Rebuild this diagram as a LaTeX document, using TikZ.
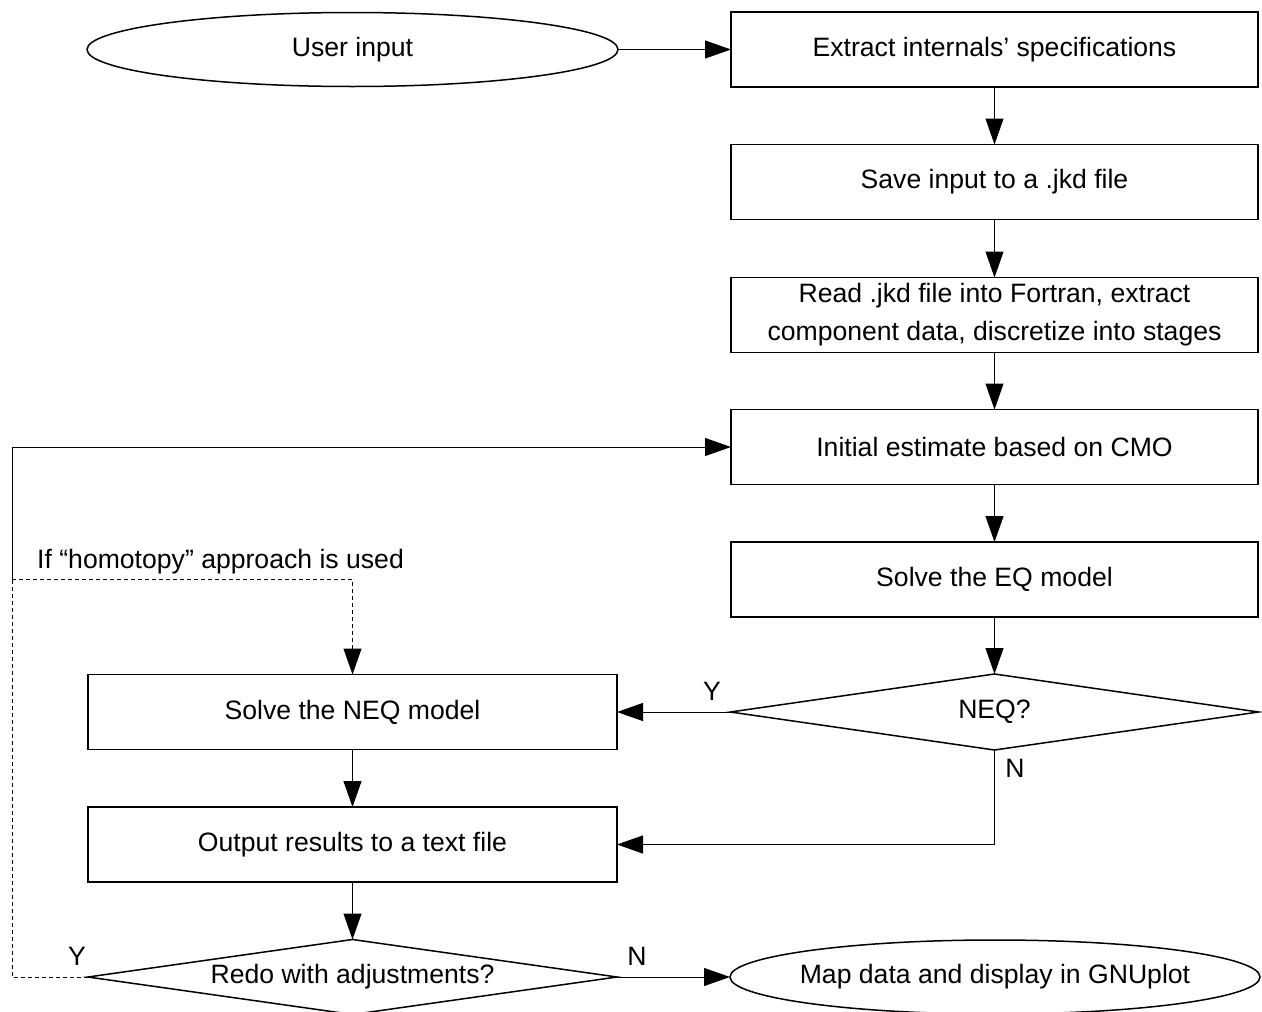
\documentclass[tikz,border=0pt]{standalone}
\usepackage{fontspec}
\setmainfont{Liberation Sans}
\usetikzlibrary{shapes.geometric,arrows.meta}
\begin{document}
\begin{tikzpicture}[x=1pt,y=-1pt,
  font=\fontsize{26.6}{38}\selectfont,
  box/.style={draw, line width=1.5pt, minimum width=527pt, minimum height=75pt, outer sep=0pt, align=center, inner sep=0pt},
  lbox/.style={box, minimum width=529pt},
  plain/.style={minimum width=528pt, minimum height=75pt, outer sep=0pt, inner sep=0pt},
  shapeline/.style={line width=1.5pt},
  conn/.style={line width=1pt, -{Triangle[length=26pt,width=18pt]}},
  dline/.style={line width=1pt, dash pattern=on 4pt off 3pt},
  lbl/.style={inner sep=0pt, anchor=base}
]
\useasboundingbox (0,0) rectangle (1262,1012);

% ellipses (drawn explicitly to fix their size)
\node[plain, minimum width=531pt, minimum height=74pt] (user) at (352.5,49.5) {User input};
\draw[shapeline] (user.center) ellipse [x radius=265.5, y radius=37];
\node[plain, minimum width=530pt, minimum height=74pt] (map) at (995,977) {Map data and display in GNUplot};
\draw[shapeline] (map.center) ellipse [x radius=265, y radius=37];

\node[box] (extract) at (994.5,49.5) {Extract internals’ specifications};
\node[box] (save) at (994.5,182) {Save input to a .jkd file};
\node[box] (read) at (994.5,315) {Read .jkd file into Fortran, extract\\component data, discretize into stages};
\node[box] (init) at (994.5,447) {Initial estimate based on CMO};
\node[box] (eq) at (994.5,579.5) {Solve the EQ model};
\node[lbox] (neq) at (352.5,712) {Solve the NEQ model};
\node[lbox] (out) at (352.5,844.5) {Output results to a text file};

% decisions (diamonds drawn from the node's anchors)
\node[plain, minimum width=528pt, minimum height=76pt] (neqq) at (994.5,712) {NEQ?};
\draw[shapeline] (neqq.west) -- (neqq.north) -- (neqq.east) -- (neqq.south) -- cycle;
\node[plain, minimum width=529pt, minimum height=75pt] (redo) at (352.5,977) {Redo with adjustments?};
\draw[shapeline] (redo.west) -- (redo.north) -- (redo.east) -- (redo.south) -- cycle;

\node[inner sep=0pt, anchor=base west] (homo) at (37,568) {If “homotopy” approach is used};
\node[lbl] (ylab1) at (712,700) {Y};
\node[lbl] (nlab1) at (1015,777) {N};
\node[lbl] (ylab2) at (77,965) {Y};
\node[lbl] (nlab2) at (637,965) {N};

\draw[conn] (user.east) -- (extract.west);
\draw[conn] (extract) -- (save);
\draw[conn] (save) -- (read);
\draw[conn] (read) -- (init);
\draw[conn] (init) -- (eq);
\draw[conn] (eq.south) -- (neqq.north);
\draw[conn] (neqq.west) -- (neq.east);
\draw[conn] (neqq.south) |- (out.east);
\draw[conn] (neq) -- (out);
\draw[conn] (out.south) -- (redo.north);
\draw[conn] (redo.east) -- (map.west);

\coordinate (lc) at (12,579.5);
\coordinate (bl) at (12,977);
\draw[dline] (redo.west) -- (bl) -- (lc);
\draw[dline, -{Triangle[length=26pt,width=18pt]}] (lc) -| (neq.north);
\draw[conn] (lc) |- (init.west);
\end{tikzpicture}
\end{document}
